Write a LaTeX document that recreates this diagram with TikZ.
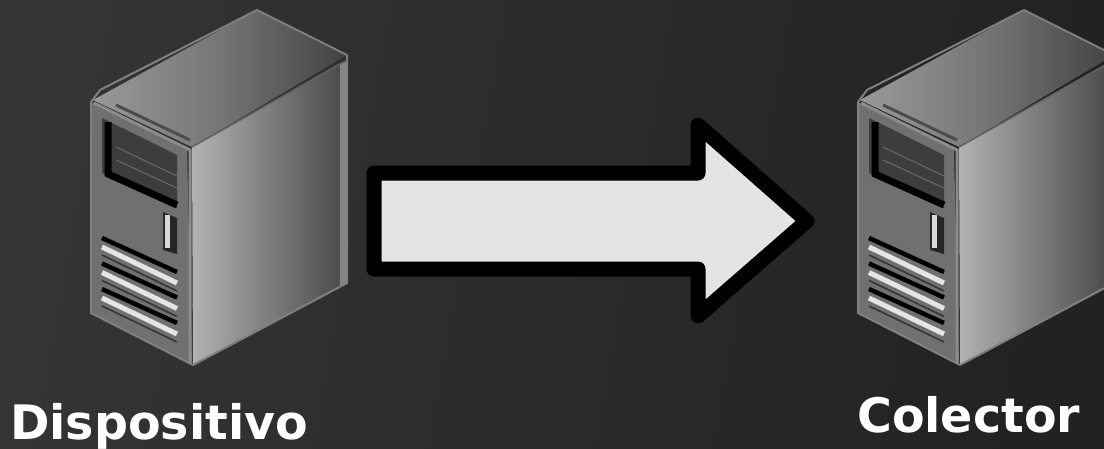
\documentclass[tikz,border=0pt]{standalone}
\usepackage{fontspec}
\setsansfont{DejaVu Sans}
\usetikzlibrary{positioning,calc}
\definecolor{bgdark}{HTML}{222223}
\definecolor{bglight}{HTML}{343435}
\definecolor{arrowfill}{HTML}{E4E4E4}

\begin{document}
\begin{tikzpicture}[
  x=1pt, y=-1pt,
  nametag/.style={text=white, inner sep=0pt, anchor=base west, font=\sffamily\bfseries\fontsize{47.5}{50}\selectfont},
  block/.style={draw=black, line width=15pt, line join=round, fill=arrowfill},
  topface/.style={left color=black!40, right color=black!74, middle color=black!54, shading angle=90},
  sideface/.style={left color=black!30, right color=black!72, shading angle=90},
  frontface/.style={fill=black!56},
  rim/.style={draw=black!50, line width=2pt, line join=round},
  bay/.style={fill=black!76},
  slit/.style={draw=black, line width=4.5pt},
  shine/.style={draw=black!10, line width=5pt},
  pics/tower/.style={code={
    % body
    \shade[topface] (257,10) -- (347,55) -- (192,147) -- (93,100) -- cycle;
    \shade[sideface] (192,147) -- (347,60) -- (347,283) -- (193,365) -- cycle;
    \fill[black!48] (340,64) -- (347,60) -- (347,283) -- (340,287) -- cycle;
    \fill[frontface] (91,102) -- (187,150) -- (192,365) -- (91,313) -- cycle;
    \draw[rim] (257,10) -- (347,55) -- (347,283) -- (193,365) -- (91,313) -- (91,102) -- (100,90) -- cycle;
    \draw[draw=black!45, line width=3pt] (94,103) -- (190,150) -- (190,363);
    \draw[draw=black!62, line width=1.5pt] (192,147) -- (347,60);
    \draw[draw=black!70, line width=3pt] (116,105) -- (190,140);
    % drive bay
    \fill[bay] (102,118) -- (177,155) -- (177,208) -- (102,173) -- cycle;
    \draw[draw=black, line width=7pt] (108,122) -- (108,174) -- (177,205);
    \draw[draw=black!58, line width=1pt] (116,147) -- (177,176);
    \draw[draw=black!58, line width=1pt] (116,160) -- (177,188);
    % button
    \fill[black!85] (163,212) -- (177,218) -- (177,254) -- (163,250) -- cycle;
    \fill[black!15] (165,215) rectangle (170,248);
    % vents
    \foreach \ventshift in {0,25.5,51}{
      \draw[slit] (102,238+\ventshift) -- (177,272+\ventshift);
      \draw[shine] (102,247+\ventshift) -- (177,283+\ventshift);
      \draw[draw=black!80, line width=1.5pt] (102,255+\ventshift) -- (177,291+\ventshift);
    }
  }}
]

\clip (0,0) rectangle (1104,448);
\useasboundingbox (0,0) rectangle (1104,448);
\shade[left color=bglight, right color=bgdark, shading angle=80] (0,0) rectangle (1104,448);

\pic (devicetower) at (0,0) {tower};
\pic (collectortower) at (767,0) {tower};

\draw[block] (374,173) -- (698,173) -- (698,125) -- (807,221) -- (698,316) -- (698,269) -- (374,269) -- cycle;

\node[nametag] (device) at (10,439) {Dispositivo};
\node[nametag] (collector) at (857,432) {Colector};

\end{tikzpicture}
\end{document}
